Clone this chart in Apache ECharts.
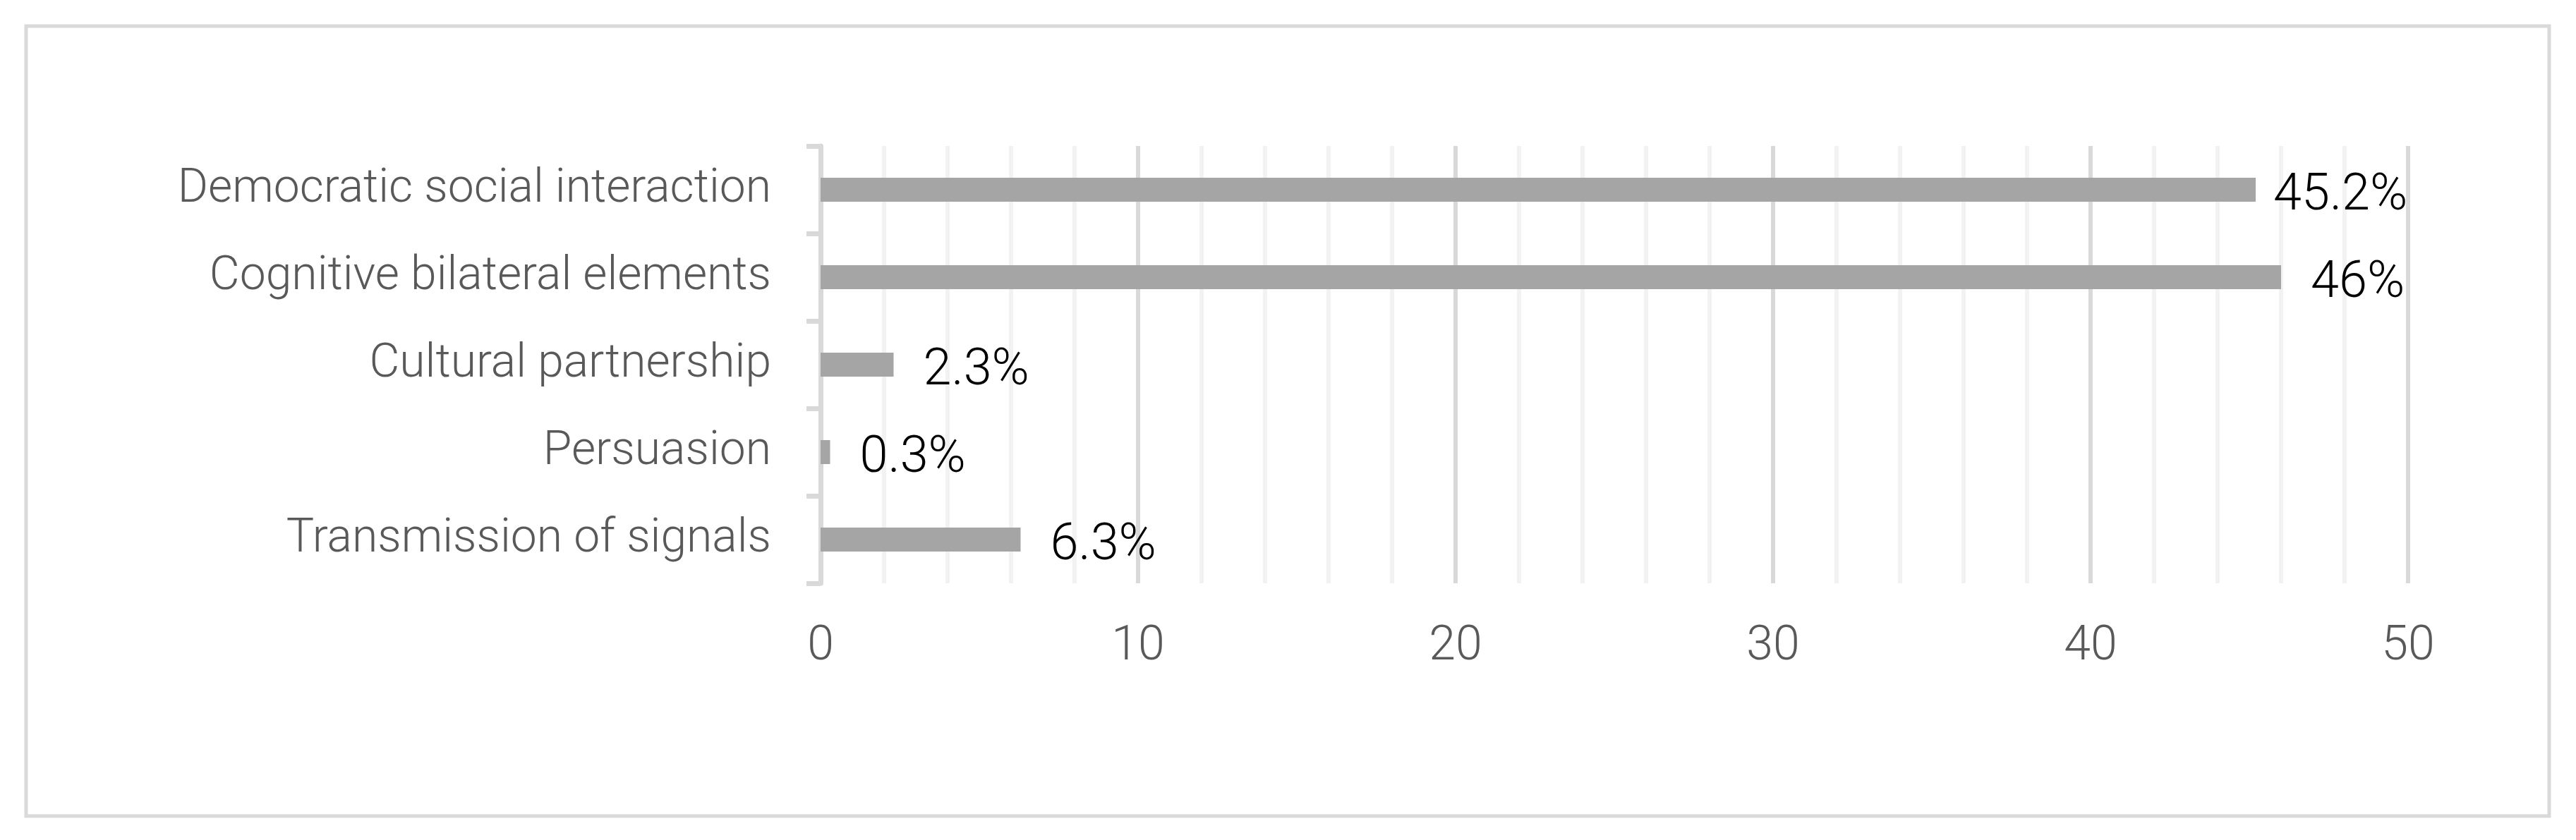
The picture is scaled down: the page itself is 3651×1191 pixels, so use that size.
<!DOCTYPE html>
<html>
<head>
<meta charset="utf-8">
<script src="https://cdn.jsdelivr.net/npm/echarts@6/dist/echarts.min.js"></script>
<style>
  html, body { margin: 0; padding: 0; background: #fff; }
  #chart { width: 3651px; height: 1191px; }
</style>
</head>
<body>
<div id="chart"></div>
<script>
// categories, top to bottom
var categories = [
  'Democratic social interaction',
  'Cognitive bilateral elements',
  'Cultural partnership',
  'Persuasion',
  'Transmission of signals'
];
var shares = [45.2, 46, 2.3, 0.3, 6.3];
var xTicks = [0, 10, 20, 30, 40, 50];

var chart = echarts.init(document.getElementById('chart'));

// the first label sits closer to its bar in the original
var barData = shares.map(function (v, i) {
  return i === 0 ? { value: v, label: { distance: 25 } } : v;
});

chart.setOption({
  backgroundColor: '#fff',
  animation: false,
  graphic: [{
    type: 'rect',
    shape: { x: 37, y: 37, width: 3576, height: 1120 },
    style: { fill: 'none', stroke: '#d9d9d9', lineWidth: 5 },
    silent: true
  }],
  grid: { left: 1163, right: 238, top: 207, bottom: 364 },
  xAxis: {
    type: 'value',
    min: xTicks[0],
    max: xTicks[xTicks.length - 1],
    interval: 10,
    axisLine: { show: false },
    axisTick: { show: false },
    axisLabel: {
      margin: 57,
      color: '#595959',
      fontFamily: 'Roboto',
      fontWeight: 300,
      fontSize: 68
    },
    splitLine: { show: true, lineStyle: { color: '#d9d9d9', width: 6 } },
    minorTick: { show: false, splitNumber: 5 },
    minorSplitLine: { show: true, lineStyle: { color: '#f2f2f2', width: 6 } }
  },
  yAxis: {
    type: 'category',
    inverse: true,
    data: categories,
    axisLine: { show: true, lineStyle: { color: '#d9d9d9', width: 7 } },
    axisTick: { show: true, length: 20, lineStyle: { color: '#d9d9d9', width: 7 } },
    axisLabel: {
      margin: 70,
      color: '#595959',
      fontFamily: 'Roboto',
      fontWeight: 300,
      fontSize: 66
    },
    splitLine: { show: false }
  },
  series: [{
    type: 'bar',
    data: barData,
    barWidth: 34,
    itemStyle: { color: '#a5a5a5' },
    label: {
      show: true,
      position: 'right',
      distance: 42,
      offset: [0, 10],
      color: '#000',
      fontFamily: 'Roboto',
      fontWeight: 300,
      fontSize: 72,
      formatter: function (p) { return p.value + '%'; }
    }
  }]
});
</script>
</body>
</html>
